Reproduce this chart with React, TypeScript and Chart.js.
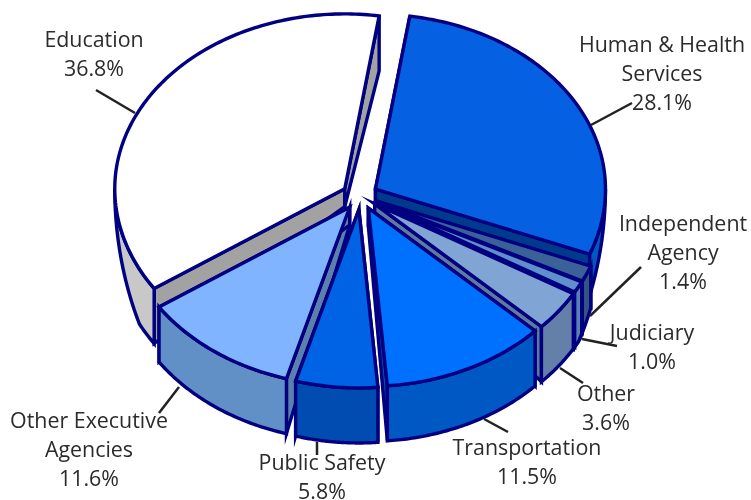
import React, { useEffect, useRef } from "react";
import { Chart, registerables } from "chart.js";

Chart.register(...registerables);

const categories = ["Human & Health Services", "Independent Agency", "Judiciary", "Other", "Transportation", "Public Safety", "Other Executive Agencies", "Education"];
const shares = [28.1, 1.4, 1.0, 3.6, 11.5, 5.8, 11.6, 36.8];
const topColors = ["#0660e2", "#3a6298", "#6090cc", "#80a4d4", "#0070ff", "#0062e4", "#80b4ff", "#ffffff"];
const rimColors = ["#0058c0", "#34557f", "#5a80b4", "#6480a8", "#0058c4", "#004cb0", "#6090c6", "#c8c8c8"];
const edgeColors = ["#003a8c", "#2c4a78", "#80b4ff", "#5f7a9f", "#0050b0", "#004cb0", "#5c80ae", "#a2a2a2"];
const paintOrder = [7, 0, 1, 2, 3, 6, 4, 5];

const labelLines = [
  ["Human & Health", "Services", "28.1%"],
  ["Independent", "Agency", "1.4%"],
  ["Judiciary", "1.0%"],
  ["Other", "3.6%"],
  ["Transportation", "11.5%"],
  ["Public Safety", "5.8%"],
  ["Other Executive", "Agencies", "11.6%"],
  ["Education", "36.8%"],
];
const labelAnchors = [[662, 52], [683, 231], [652, 340], [606, 401], [527, 455], [322, 470], [89, 428], [94, 47]];
const leaders = [
  [632, 103, 591, 125], [641, 267, 590, 316], [617, 346, 582, 339], [583, 383, 560, 368],
  [508, 432, 484, 419], [317, 442, 317, 455], [159, 413, 179, 387], [96, 90, 135, 113],
];

const SQUASH = 0.76;
const FRONT_STRETCH = 1.02;
const DEPTH = 55;
const APEX_DEPTH = 18;
const STROKE = "#000080";
const TAU = Math.PI * 2;
const DEG = Math.PI / 180;

// the reference's projection is not a pure ellipse: the lower right is turned a little further
const warp = (a: number) => {
  const t = (((a + Math.PI / 2) % TAU) + TAU) % TAU;
  const from = 90 * DEG;
  const to = 236 * DEG;
  if (t <= from || t >= to) return a;
  return a + 2.2 * DEG * Math.sqrt(Math.sin((Math.PI * (t - from)) / (to - from)));
};

const pie3d = {
  id: "pie3d",
  beforeDatasetsDraw(chart: any) {
    const ctx = chart.ctx as CanvasRenderingContext2D;
    const arcs = chart.getDatasetMeta(0).data;
    ctx.save();
    ctx.lineWidth = 3.4;
    ctx.strokeStyle = STROKE;
    ctx.lineJoin = "miter";
    const paint = (fill: string) => {
      ctx.closePath();
      ctx.fillStyle = fill;
      ctx.fill();
      ctx.stroke();
    };
    for (const i of paintOrder) {
      const arc = arcs[i];
      const mid = (arc.startAngle + arc.endAngle) / 2;
      const off = arc.options.offset;
      const ax = arc.x + Math.cos(mid) * off;
      const ay = arc.y + Math.sin(mid) * off * SQUASH;
      const r = arc.outerRadius;
      const ry = r * SQUASH;
      const rim = (raw: number) => {
        const a = warp(raw);
        const sn = Math.sin(a);
        return [ax + Math.cos(a) * r, ay + sn * ry * (sn > 0 ? FRONT_STRETCH : 1)];
      };
      const drop = (a: number) => DEPTH * Math.min(1, Math.abs(Math.sin(a)) / 0.45);
      const wall = (a: number) => {
        const [x, y] = rim(a);
        ctx.beginPath();
        ctx.moveTo(ax, ay);
        ctx.lineTo(x, y);
        ctx.lineTo(x, y + drop(a));
        ctx.lineTo(ax, ay + APEX_DEPTH);
        paint(edgeColors[i]);
      };
      wall(arc.startAngle);
      wall(arc.endAngle);
      const norm = (a: number) => ((a % TAU) + TAU) % TAU;
      const span = arc.endAngle - arc.startAngle;
      const s = norm(arc.startAngle);
      const a0 = s > Math.PI ? (s + span > TAU ? TAU : null) : s;
      if (a0 !== null) {
        const end = a0 === s ? Math.min(s + span, Math.PI) : Math.min(s + span, 3 * Math.PI);
        const steps = 60;
        ctx.beginPath();
        for (let k = 0; k <= steps; k++) {
          const a = a0 + ((end - a0) * k) / steps;
          const [x, y] = rim(a);
          k ? ctx.lineTo(x, y) : ctx.moveTo(x, y);
        }
        for (let k = steps; k >= 0; k--) {
          const a = a0 + ((end - a0) * k) / steps;
          const [x, y] = rim(a);
          ctx.lineTo(x, y + drop(a));
        }
        paint(rimColors[i]);
      }
      const steps = Math.ceil(span / DEG) + 1;
      ctx.beginPath();
      ctx.moveTo(ax, ay);
      for (let k = 0; k <= steps; k++) {
        const [x, y] = rim(arc.startAngle + (span * k) / steps);
        ctx.lineTo(x, y);
      }
      paint(topColors[i]);
    }
    ctx.strokeStyle = "#222222";
    ctx.lineWidth = 2.5;
    for (const [x1, y1, x2, y2] of leaders) {
      ctx.beginPath();
      ctx.moveTo(x1, y1);
      ctx.lineTo(x2, y2);
      ctx.stroke();
    }
    ctx.fillStyle = "#2b2b2b";
    ctx.font = '21.4px "Open Sans"';
    ctx.textAlign = "center";
    ctx.textBaseline = "alphabetic";
    labelLines.forEach((lines, i) => {
      lines.forEach((line, k) => {
        ctx.fillText(line, labelAnchors[i][0], labelAnchors[i][1] + k * 29);
      });
    });
    ctx.restore();
    return false;
  },
};

export default function App() {
  const ref = useRef<HTMLCanvasElement>(null);
  useEffect(() => {
    const chart = new Chart(ref.current!, {
      type: "pie",
      data: {
        labels: categories,
        datasets: [{ data: shares, offset: 18, backgroundColor: topColors, borderColor: STROKE, borderWidth: 3 }],
      },
      options: {
        responsive: false,
        animation: false,
        rotation: 8.6,
        radius: 230,
        layout: { padding: { left: 0, top: 0, right: 31, bottom: 108 } },
        plugins: { legend: { display: false }, tooltip: { enabled: false } },
      },
      plugins: [pie3d],
    } as any);
    return () => chart.destroy();
  }, []);
  return (
    <canvas ref={ref} width={751} height={500} style={{ position: "absolute", left: 0, top: 0, width: 751, height: 500 }} />
  );
}
